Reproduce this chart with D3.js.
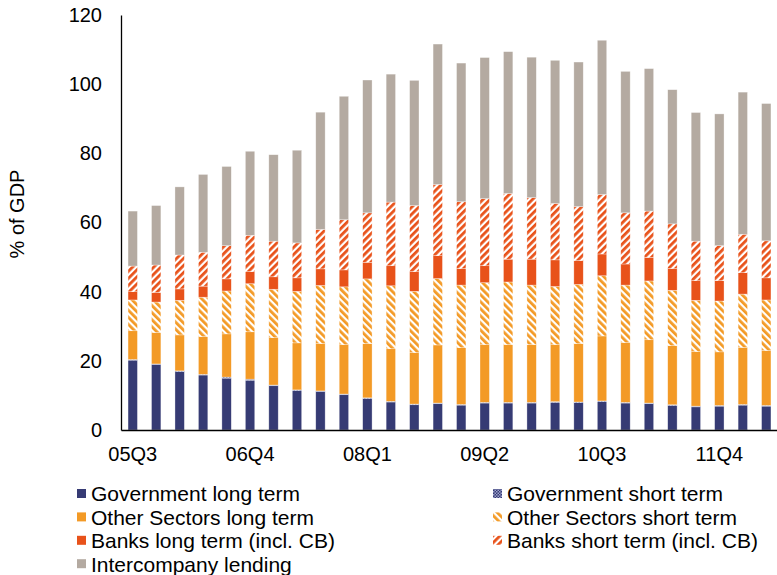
<!DOCTYPE html>
<html>
<head>
<meta charset="utf-8">
<script src="https://cdn.jsdelivr.net/npm/d3@7"></script>
<style>
  body { margin: 0; background: #fff; }
  text { font-family: "Liberation Sans", Arial, sans-serif; fill: #000; }
</style>
</head>
<body>
<div id="chart"></div>
<script>
// quarters shown on the x axis
var quarters = ["05Q3","05Q4","06Q1","06Q2","06Q3","06Q4","07Q1","07Q2","07Q3","07Q4",
                "08Q1","08Q2","08Q3","08Q4","09Q1","09Q2","09Q3","09Q4","10Q1","10Q2",
                "10Q3","10Q4","11Q1","11Q2","11Q3","11Q4","12Q1","12Q2"];
var tickLabels = ["05Q3","06Q4","08Q1","09Q2","10Q3","11Q4"];
var yTicks = [0, 20, 40, 60, 80, 100, 120];

// series values, % of GDP
var govLong      = [20.2,18.9,16.9,15.9,15.0,14.4,12.8,11.4,11.1,10.2,9.1,8.1,7.3,7.6,7.2,7.8,7.8,7.8,8.0,7.9,8.2,7.8,7.6,7.1,6.7,6.9,7.2,6.9];
var govShort     = [0.2,0.2,0.2,0.2,0.3,0.3,0.2,0.2,0.2,0.2,0.2,0.2,0.2,0.2,0.2,0.2,0.2,0.2,0.2,0.2,0.2,0.2,0.2,0.2,0.2,0.2,0.2,0.2];
var otherLong    = [8.3,9.1,10.4,10.9,12.5,13.7,13.7,13.6,13.7,14.3,15.7,15.2,14.9,16.8,16.4,16.7,16.7,16.7,16.5,16.9,18.8,17.3,18.3,17.1,15.8,15.5,16.5,15.9];
var otherShort   = [8.9,8.8,10.0,11.4,12.4,13.9,14.0,14.9,16.8,16.7,18.7,18.2,17.7,19.2,18.1,17.9,18.1,17.2,16.8,17.1,17.4,16.6,17.0,16.0,14.8,14.7,15.4,14.6];
var banksLong    = [2.4,2.8,3.3,3.2,3.5,3.5,3.6,3.9,4.8,4.9,4.8,5.8,5.7,6.6,4.8,4.9,6.6,7.5,7.7,6.9,6.3,6.1,6.8,6.3,5.7,5.9,6.2,6.4];
var banksShort   = [7.4,7.9,9.8,9.8,9.6,10.5,10.3,10.1,11.4,14.5,14.3,18.4,19.1,20.6,19.3,19.4,19.0,17.8,16.3,15.6,17.2,14.8,13.4,12.9,11.4,10.1,11.1,10.7];
var intercompany = [15.9,17.2,19.7,22.5,22.9,24.3,25.0,26.8,33.9,35.7,38.4,37.0,36.2,40.6,40.1,40.8,41.0,40.6,41.4,41.8,44.6,40.9,41.2,38.8,37.2,38.1,41.1,39.7];

var seriesKeys = ["govLong","govShort","otherLong","otherShort","banksLong","banksShort","intercompany"];
var seriesNames = {
  govLong: "Government long term",
  govShort: "Government short term",
  otherLong: "Other Sectors long term",
  otherShort: "Other Sectors short term",
  banksLong: "Banks long term (incl. CB)",
  banksShort: "Banks short term (incl. CB)",
  intercompany: "Intercompany lending"
};
var fills = {
  govLong: "#363b74",
  govShort: "url(#patGov)",
  otherLong: "#f39a26",
  otherShort: "url(#patOther)",
  banksLong: "#e8521a",
  banksShort: "url(#patBanks)",
  intercompany: "#b4aaa1"
};

var W = 777, H = 575;
var margin = {left: 121, right: -1, top: 15, bottom: 145};

var rows = quarters.map(function(q, i) {
  return {
    q: q,
    govLong: govLong[i], govShort: govShort[i],
    otherLong: otherLong[i], otherShort: otherShort[i],
    banksLong: banksLong[i], banksShort: banksShort[i],
    intercompany: intercompany[i]
  };
});

var svg = d3.select("#chart").append("svg")
  .attr("width", W)
  .attr("height", H);

// hatch patterns
var defs = svg.append("defs");
var pg = defs.append("pattern").attr("id", "patGov")
  .attr("patternUnits", "userSpaceOnUse").attr("width", 3).attr("height", 3);
pg.append("rect").attr("width", 3).attr("height", 3).attr("fill", "#363b74");
pg.append("rect").attr("width", 1.5).attr("height", 1.5).attr("fill", "#9ea2cc");
pg.append("rect").attr("x", 1.5).attr("y", 1.5).attr("width", 1.5).attr("height", 1.5).attr("fill", "#9ea2cc");

function hatch(id, color, dir) {
  var p = defs.append("pattern").attr("id", id)
    .attr("patternUnits", "userSpaceOnUse")
    .attr("width", 5).attr("height", 5)
    .attr("patternTransform", "rotate(" + dir + ")");
  p.append("rect").attr("width", 5).attr("height", 5).attr("fill", "#fff");
  p.append("rect").attr("width", 2.8).attr("height", 5).attr("fill", color);
}
hatch("patOther", "#f39a26", -45);
hatch("patBanks", "#e8521a", 45);

var width = W - margin.left - margin.right;
var height = H - margin.top - margin.bottom;

var g = svg.append("g")
  .attr("transform", "translate(" + margin.left + "," + margin.top + ")");

var x = d3.scaleBand()
  .domain(quarters)
  .range([0, width])
  .paddingInner(0.6)
  .paddingOuter(0.3);

var y = d3.scaleLinear()
  .domain([0, 120])
  .range([height, 0]);

var stacked = d3.stack().keys(seriesKeys)(rows);

g.selectAll("g.layer")
  .data(stacked)
  .enter().append("g")
    .attr("class", "layer")
    .attr("fill", function(d) { return fills[d.key]; })
  .selectAll("rect")
  .data(function(d) { return d; })
  .enter().append("rect")
    .attr("x", function(d) { return x(d.data.q); })
    .attr("y", function(d) { return y(d[1]); })
    .attr("width", x.bandwidth())
    .attr("height", function(d) { return y(d[0]) - y(d[1]); })
    .attr("stroke", "rgba(255,255,255,0.55)")
    .attr("stroke-width", 0.6);

// y axis
var yAxis = g.append("g")
  .call(d3.axisLeft(y).tickValues(yTicks).tickSize(0).tickPadding(19));
yAxis.select(".domain").attr("stroke", "#000").attr("stroke-width", 1.3);
yAxis.selectAll("text").style("font-size", "20px")
  .style("font-family", "'Liberation Sans', Arial, sans-serif");

// x axis
var xAxis = g.append("g")
  .attr("transform", "translate(0," + height + ")")
  .call(d3.axisBottom(x).tickValues(tickLabels).tickSize(0).tickPadding(17));
xAxis.select(".domain").attr("stroke", "#000").attr("stroke-width", 1.6);
xAxis.selectAll("text").style("font-size", "20px")
  .style("font-family", "'Liberation Sans', Arial, sans-serif");

// y title
svg.append("text")
  .attr("transform", "translate(24,214) rotate(-90)")
  .attr("text-anchor", "middle")
  .style("font-size", "20px")
  .text("% of GDP");

// legend
var legendLeft = ["govLong","otherLong","banksLong","intercompany"];
var legendRight = ["govShort","otherShort","banksShort"];

function legendColumn(keys, x0) {
  var lg = svg.append("g").attr("transform", "translate(" + x0 + ",494)");
  var item = lg.selectAll("g").data(keys).enter().append("g")
    .attr("transform", function(d, i) { return "translate(0," + (i * 23.4) + ")"; });
  item.append("rect")
    .attr("x", 0).attr("y", -5)
    .attr("width", 9).attr("height", 9)
    .attr("fill", function(d) { return fills[d]; });
  item.append("text")
    .attr("x", 14).attr("y", 0)
    .attr("dy", "0.35em")
    .style("font-size", "21px")
    .text(function(d) { return seriesNames[d]; });
}
legendColumn(legendLeft, 77);
legendColumn(legendRight, 493);
</script>
</body>
</html>
